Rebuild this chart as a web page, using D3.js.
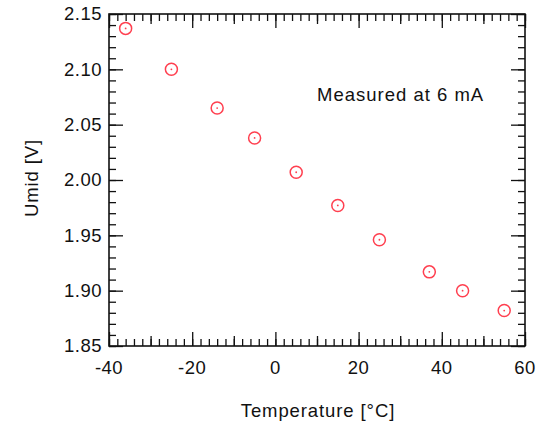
<!DOCTYPE html>
<html>
<head>
<meta charset="utf-8">
<script src="https://cdn.jsdelivr.net/npm/d3@7"></script>
<style>
    body { margin: 0; background: #fff; }
    svg text { font-family: "Liberation Sans", Arial, sans-serif; fill: #111; }
</style>
</head>
<body>
<svg id="chart" width="551" height="423"></svg>
<script>
// measured points
const temperature = [-36, -25, -14, -5, 5, 15, 25, 37, 45, 55];
const umid = [2.137, 2.100, 2.065, 2.038, 2.007, 1.977, 1.946, 1.917, 1.900, 1.882];

const xTickLabels = [-40, -20, 0, 20, 40, 60];
const yTickLabels = [1.85, 1.90, 1.95, 2.00, 2.05, 2.10, 2.15];

const xTitle = "Temperature [°C]";
const yTitle = "Umid [V]";
const note = "Measured at 6 mA";

const width = 551;
const height = 423;
const margin = { top: 14, right: 26, bottom: 77, left: 109 };
const plotW = width - margin.left - margin.right;
const plotH = height - margin.top - margin.bottom;

const svg = d3.select("#chart");
const g = svg.append("g").attr("transform", `translate(${margin.left},${margin.top})`);

const x = d3.scaleLinear().domain([-40, 60]).range([0, plotW]);
const y = d3.scaleLinear().domain([1.85, 2.15]).range([plotH, 0]);

// tick positions for the minor / mid / major marks
const xMinor = d3.range(-40, 60.01, 2);
const xMid = d3.range(-30, 60, 20);
const yMinor = d3.range(1.85, 2.1501, 0.01);

function tickAxes(vals, len) {
    // bottom and top, ticks pointing inward
    g.append("g").attr("transform", `translate(0,${plotH})`)
        .call(d3.axisBottom(x).tickValues(vals).tickSize(-len).tickFormat(""))
        .call(a => a.select(".domain").remove());
    g.append("g")
        .call(d3.axisTop(x).tickValues(vals).tickSize(-len).tickFormat(""))
        .call(a => a.select(".domain").remove());
}

tickAxes(xMinor, 7);
tickAxes(xMid, 10);
tickAxes(xTickLabels, 14);

function yTickAxes(vals, len) {
    g.append("g")
        .call(d3.axisLeft(y).tickValues(vals).tickSize(-len).tickFormat(""))
        .call(a => a.select(".domain").remove());
    g.append("g").attr("transform", `translate(${plotW},0)`)
        .call(d3.axisRight(y).tickValues(vals).tickSize(-len).tickFormat(""))
        .call(a => a.select(".domain").remove());
}

yTickAxes(yMinor, 7);
yTickAxes(yTickLabels, 14);

g.selectAll(".tick line").attr("stroke", "#111").attr("stroke-width", 1.3);

// frame
g.append("rect")
    .attr("width", plotW)
    .attr("height", plotH)
    .attr("fill", "none")
    .attr("stroke", "#111")
    .attr("stroke-width", 1.6);

// tick labels
g.selectAll(".xlab")
    .data(xTickLabels)
    .enter().append("text")
    .attr("x", d => x(d))
    .attr("y", plotH + 28)
    .attr("text-anchor", "middle")
    .style("font-size", "18.5px")
    .style("letter-spacing", "0.5px")
    .text(d => d);

g.selectAll(".ylab")
    .data(yTickLabels)
    .enter().append("text")
    .attr("x", -7)
    .attr("y", d => y(d))
    .attr("dy", "0.35em")
    .attr("text-anchor", "end")
    .style("font-size", "18.5px")
    .style("letter-spacing", "0.5px")
    .text(d => d3.format(".2f")(d));

// titles
svg.append("text")
    .attr("x", 318)
    .attr("y", 417)
    .attr("text-anchor", "middle")
    .style("font-size", "18.5px")
    .style("letter-spacing", "0.9px")
    .text(xTitle);

svg.append("text")
    .attr("transform", "translate(38,178) rotate(-90)")
    .attr("text-anchor", "middle")
    .style("font-size", "18.5px")
    .style("letter-spacing", "0.9px")
    .text(yTitle);

svg.append("text")
    .attr("x", 317)
    .attr("y", 101)
    .style("font-size", "18.5px")
    .style("letter-spacing", "1px")
    .text(note);

// markers
const pts = temperature.map((t, i) => ({ t: t, v: umid[i] }));
const mark = g.selectAll(".pt")
    .data(pts)
    .enter().append("g")
    .attr("transform", d => `translate(${x(d.t)},${y(d.v)})`);

mark.append("circle")
    .attr("r", 6)
    .attr("fill", "none")
    .attr("stroke", "#ff3f4f")
    .attr("stroke-width", 1.5);

mark.append("circle")
    .attr("r", 0.9)
    .attr("fill", "#ff3f4f");
</script>
</body>
</html>
